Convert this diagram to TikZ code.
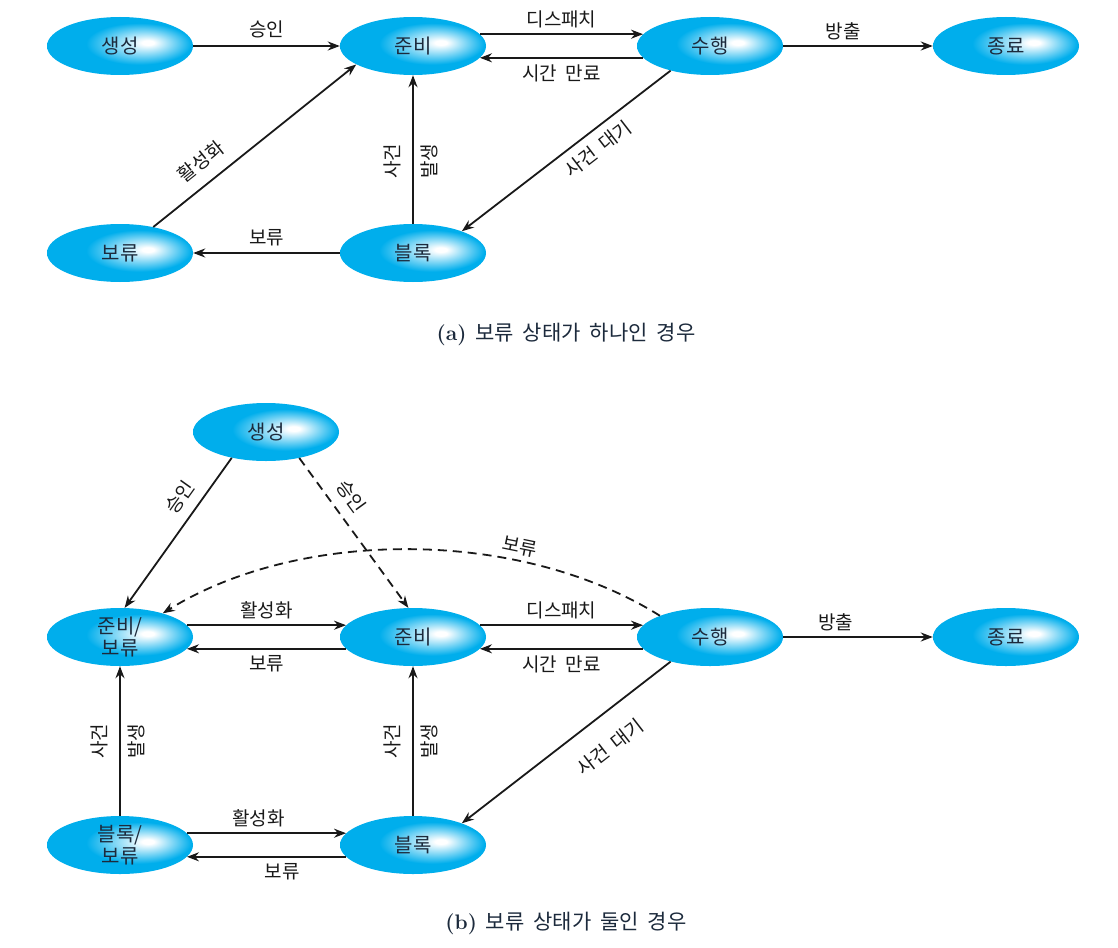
\documentclass[tikz,border=0pt]{standalone}
\usepackage{fontspec}
\newfontfamily\kr[WordSpace=1.9]{Noto Sans CJK KR}
\usetikzlibrary{arrows.meta,shapes.geometric,calc}
\definecolor{cy}{RGB}{0,174,236}
\definecolor{ink}{RGB}{25,25,25}
\definecolor{nodeink}{RGB}{28,42,60}
\pgfdeclareradialshading{stateshade}{\pgfpoint{10bp}{3bp}}{color(0bp)=(white); color(2bp)=(white); color(18bp)=(cy); color(50bp)=(cy)}
\tikzset{
  state/.style={ellipse, minimum width=146pt, minimum height=58pt, inner sep=0pt,
    shading=stateshade, text=nodeink, align=center,
    font=\kr\fontsize{20}{22}\selectfont},
  arr/.style={draw=ink, line width=1.8pt, -{Stealth[length=12pt,width=9pt]}},
  dsh/.style={dash pattern=on 9pt off 6pt},
  lab/.style={font=\kr\fontsize{19}{21}\selectfont, text=ink, inner sep=1pt},
  captext/.style={font=\kr\fontsize{21}{23}\selectfont, text=nodeink}
}
\begin{document}
\begin{tikzpicture}[x=1pt,y=-1pt]
\useasboundingbox (0,0) rectangle (1118,947);
\fill[white] (0,0) rectangle (1118,947);
% ---------- (a) ----------
\node[state] (a1) at (120,46) {생성};
\node[state] (a2) at (413,46) {준비};
\node[state] (a3) at (710,46) {수행};
\node[state] (a4) at (1006,46) {종료};
\node[state] (a5) at (120,253) {보류};
\node[state] (a6) at (413,253) {블록};

\draw[arr] (a1) -- node[lab, above=6pt] (la1) {승인} (a2);
\draw[arr] (a2.10) -- node[lab, above=4pt] (la2) {디스패치} (a3.170);
\draw[arr] (a3.190) -- node[lab, below=5pt] (la3) {시간 만료} (a2.350);
\draw[arr] (a3) -- node[lab, above=4pt, pos=0.4] (la4) {방출} (a4);
\draw[arr] (a5.38) -- node[lab, sloped, above=11pt, pos=0.3] (la5) {활성화} (a2.198);
\draw[arr] (a6) -- (a2);
\node[lab, rotate=90] (la6) at ($(a6)!0.5!(a2)+(-21,12)$) {사건};
\node[lab, rotate=90] (la7) at ($(a6)!0.5!(a2)+(16,12)$) {발생};
\draw[arr] (a3.212) -- node[lab, sloped, below=7pt, pos=0.4] (la8) {사건 대기} (a6.24);
\draw[arr] (a6) -- node[lab, above=5pt] (la9) {보류} (a5);

\node[captext] (capa) at (566,334) {{\rmfamily\bfseries (a)} 보류 상태가 하나인 경우};

% ---------- (b) ----------
\node[state] (b1) at (266,432) {생성};
\node[state] (b2) at (120,637) {준비/\\보류};
\node[state] (b3) at (413,637) {준비};
\node[state] (b4) at (710,637) {수행};
\node[state] (b5) at (1006,637) {종료};
\node[state] (b6) at (120,845) {블록/\\보류};
\node[state] (b7) at (413,845) {블록};

\draw[arr] (b1.217) -- node[lab, sloped, above=9pt, pos=0.34] (lb1) {승인} (b2.81);
\draw[arr, dsh] (b1.322) -- node[lab, sloped, above=9pt, pos=0.33] (lb2) {승인} (b3.99);
\draw[arr, dsh] (b4.157) .. controls (520,528) and (300,528) .. node[lab, sloped, above=4pt, pos=0.3] (lb3) {보류} (b2.29);
\draw[arr] (b2.10) -- node[lab, above=4pt] (lb4) {활성화} (b3.170);
\draw[arr] (b3.190) -- node[lab, below=5pt] (lb5) {보류} (b2.350);
\draw[arr] (b3.10) -- node[lab, above=4pt] (lb6) {디스패치} (b4.170);
\draw[arr] (b4.190) -- node[lab, below=5pt] (lb7) {시간 만료} (b3.350);
\draw[arr] (b4) -- node[lab, above=4pt, pos=0.35] (lb8) {방출} (b5);
\draw[arr] (b6) -- (b2);
\node[lab, rotate=90] (lb9) at ($(b6)!0.5!(b2)+(-21,0)$) {사건};
\node[lab, rotate=90] (lb10) at ($(b6)!0.5!(b2)+(16,0)$) {발생};
\draw[arr] (b7) -- (b3);
\node[lab, rotate=90] (lb11) at ($(b7)!0.5!(b3)+(-21,0)$) {사건};
\node[lab, rotate=90] (lb12) at ($(b7)!0.5!(b3)+(16,0)$) {발생};
\draw[arr] (b4.212) -- node[lab, sloped, below=20pt, pos=0.38] (lb13) {사건 대기} (b7.24);
\draw[arr] (b6.10) -- node[lab, above=4pt, pos=0.45] (lb14) {활성화} (b7.170);
\draw[arr] (b7.190) -- node[lab, below=5pt, pos=0.4] (lb15) {보류} (b6.350);

\node[captext] (capb) at (566,923) {{\rmfamily\bfseries (b)} 보류 상태가 둘인 경우};
\end{tikzpicture}
\end{document}
